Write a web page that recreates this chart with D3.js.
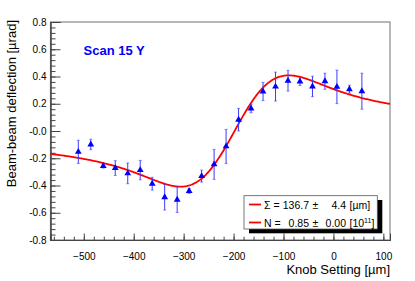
<!DOCTYPE html>
<html>
<head>
<meta charset="utf-8">
<script src="https://cdn.jsdelivr.net/npm/d3@7"></script>
<style>
  html, body { margin: 0; padding: 0; background: #fff; }
  svg { display: block; font-family: "Liberation Sans", Arial, Helvetica, sans-serif; }
</style>
</head>
<body>
<svg id="chart" width="415" height="281"></svg>
<script>
// ---- data ----
const knob = [-511, -486, -461, -437, -412, -387, -363, -338, -313, -289, -264, -239,
              -215, -190, -165, -141, -116, -91, -67, -42, -17, 7, 32, 57];
const deflection = [-0.153, -0.099, -0.257, -0.272, -0.311, -0.287, -0.387, -0.486, -0.504, -0.440, -0.331, -0.245,
                    -0.113, 0.083, 0.165, 0.290, 0.326, 0.369, 0.363, 0.327, 0.365, 0.324, 0.307, 0.292];
const deflErr = [0.085, 0.038, 0.015, 0.054, 0.076, 0.071, 0.047, 0.094, 0.094, 0.018, 0.044, 0.110,
                 0.125, 0.083, 0.031, 0.067, 0.106, 0.076, 0.029, 0.075, 0.059, 0.123, 0.029, 0.132];
const xTicks = [-500, -400, -300, -200, -100, 0, 100];
const yTicks = [-0.8, -0.6, -0.4, -0.2, 0.0, 0.2, 0.4, 0.6, 0.8];
const yTickLabels = ["-0.8", "-0.6", "-0.4", "-0.2", "-0.0", "0.2", "0.4", "0.6", "0.8"];
// fit parameters (beam-beam deflection model)
const fitSigma = 136.7, fitSigmaErr = 4.4;
const fitN = 0.85, fitNErr = 0.00;
const fitCenter = -198, fitAmp = 0.905;
const title = "Scan 15 Y";

// ---- layout ----
const L = 50.5, R = 390, T = 22, B = 240;
const svg = d3.select("#chart");
const x = d3.scaleLinear().domain([-566.7, 113.3]).range([L, R]);
const y = d3.scaleLinear().domain([-0.8, 0.8]).range([B, T]);
const axisCol = "#444";

// frame
svg.append("rect").attr("x", L).attr("y", T).attr("width", R - L).attr("height", B - T)
  .attr("fill", "none").attr("stroke", "#888").attr("stroke-width", 1.2);

// y axis
const yMinor = d3.range(-0.8, 0.8001, 0.04);
const gyMinor = svg.append("g").attr("transform", `translate(${L},0)`)
  .call(d3.axisLeft(y).tickValues(yMinor).tickSize(-5).tickFormat(""));
const gy = svg.append("g").attr("transform", `translate(${L},0)`)
  .call(d3.axisLeft(y).tickValues(yTicks).tickSize(-10).tickPadding(4)
    .tickFormat((d, i) => yTickLabels[i]));
// x axis
const xMinor = d3.range(-560, 113, 20);
const gxMinor = svg.append("g").attr("transform", `translate(0,${B})`)
  .call(d3.axisBottom(x).tickValues(xMinor).tickSize(-3.3).tickFormat(""));
const gx = svg.append("g").attr("transform", `translate(0,${B})`)
  .call(d3.axisBottom(x).tickValues(xTicks).tickSize(-6.5).tickPadding(12.5).tickFormat(d3.format("d")));
[gy, gx, gyMinor, gxMinor].forEach(g => {
  g.select(".domain").attr("stroke", axisCol);
  g.selectAll(".tick line").attr("stroke", axisCol);
  g.selectAll("text").attr("font-size", 10).attr("fill", "#000")
    .attr("font-family", "'Liberation Sans', Arial, sans-serif");
});

// axis titles
svg.append("text").attr("x", R).attr("y", 274).attr("text-anchor", "end")
  .attr("font-size", 13).text("Knob Setting [µm]");
svg.append("text").attr("transform", "translate(16,20) rotate(-90)").attr("text-anchor", "end")
  .attr("font-size", 13).text("Beam-beam deflection [µrad]");

// title
svg.append("text").attr("x", 83.5).attr("y", 55).attr("font-size", 13).attr("font-weight", "bold")
  .attr("fill", "#0000ff").text(title);

// fit curve
const fitFn = k => {
  const u = 2 * (k - fitCenter) / fitSigma;
  if (Math.abs(u) < 1e-9) return 0;
  return fitAmp * (1 - Math.exp(-u * u / 2)) / u;
};
const curveX = d3.range(x.domain()[0], x.domain()[1] + 0.01, 2);
svg.append("path").datum(curveX)
  .attr("d", d3.line().x(d => x(d)).y(d => y(fitFn(d))))
  .attr("fill", "none").attr("stroke", "#ff0000").attr("stroke-width", 1.8);

// error bars
const pts = knob.map((k, i) => ({ k, v: deflection[i], e: deflErr[i] }));
const eb = svg.append("g").attr("stroke", "#3b3bff").attr("stroke-width", 1);
eb.selectAll("line.bar").data(pts).join("line").attr("class", "bar")
  .attr("x1", d => x(d.k)).attr("x2", d => x(d.k))
  .attr("y1", d => y(d.v + d.e)).attr("y2", d => y(d.v - d.e));
eb.selectAll("line.cap1").data(pts).join("line").attr("class", "cap1")
  .attr("x1", d => x(d.k) - 1.5).attr("x2", d => x(d.k) + 1.5)
  .attr("y1", d => y(d.v + d.e)).attr("y2", d => y(d.v + d.e)).attr("stroke-opacity", 0.6);
eb.selectAll("line.cap2").data(pts).join("line").attr("class", "cap2")
  .attr("x1", d => x(d.k) - 1.5).attr("x2", d => x(d.k) + 1.5)
  .attr("y1", d => y(d.v - d.e)).attr("y2", d => y(d.v - d.e)).attr("stroke-opacity", 0.6);

// markers
svg.append("g").selectAll("path").data(pts).join("path")
  .attr("transform", d => `translate(${x(d.k)},${y(d.v)})`)
  .attr("d", d3.symbol(d3.symbolTriangle, 20))
  .attr("fill", "#0000ff");

// legend
const lg = svg.append("g");
lg.append("rect").attr("x", 249).attr("y", 200).attr("width", 133.3).attr("height", 33.3).attr("fill", "#000");
lg.append("rect").attr("x", 244).attr("y", 195.7).attr("width", 133.3).attr("height", 33.3)
  .attr("fill", "#fff").attr("stroke", "#555").attr("stroke-width", 0.8);
const rows = [
  { label: "Σ =", val: fitSigma.toFixed(1), err: fitSigmaErr.toFixed(1), unit: "[µm]", sup: null, yb: 208.5 },
  { label: "N =", val: fitN.toFixed(2), err: fitNErr.toFixed(2), unit: "[10", sup: "11", yb: 226.5 }
];
rows.forEach(r => {
  lg.append("line").attr("x1", 249).attr("x2", 261).attr("y1", r.yb - 4).attr("y2", r.yb - 4)
    .attr("stroke", "#ff0000").attr("stroke-width", 1.8);
  const fs = 10.5;
  lg.append("text").attr("x", 264).attr("y", r.yb).attr("font-size", fs).text(r.label);
  lg.append("text").attr("x", 309).attr("y", r.yb).attr("font-size", fs).attr("text-anchor", "end").text(r.val);
  lg.append("text").attr("x", 312.5).attr("y", r.yb).attr("font-size", fs).text("±");
  lg.append("text").attr("x", 346).attr("y", r.yb).attr("font-size", fs).attr("text-anchor", "end").text(r.err);
  const t = lg.append("text").attr("x", 349.5).attr("y", r.yb).attr("font-size", fs);
  t.append("tspan").text(r.unit);
  if (r.sup) {
    t.append("tspan").attr("dy", -4).attr("font-size", 7).text(r.sup);
    t.append("tspan").attr("dy", 4).text("]");
  }
});
</script>
</body>
</html>
